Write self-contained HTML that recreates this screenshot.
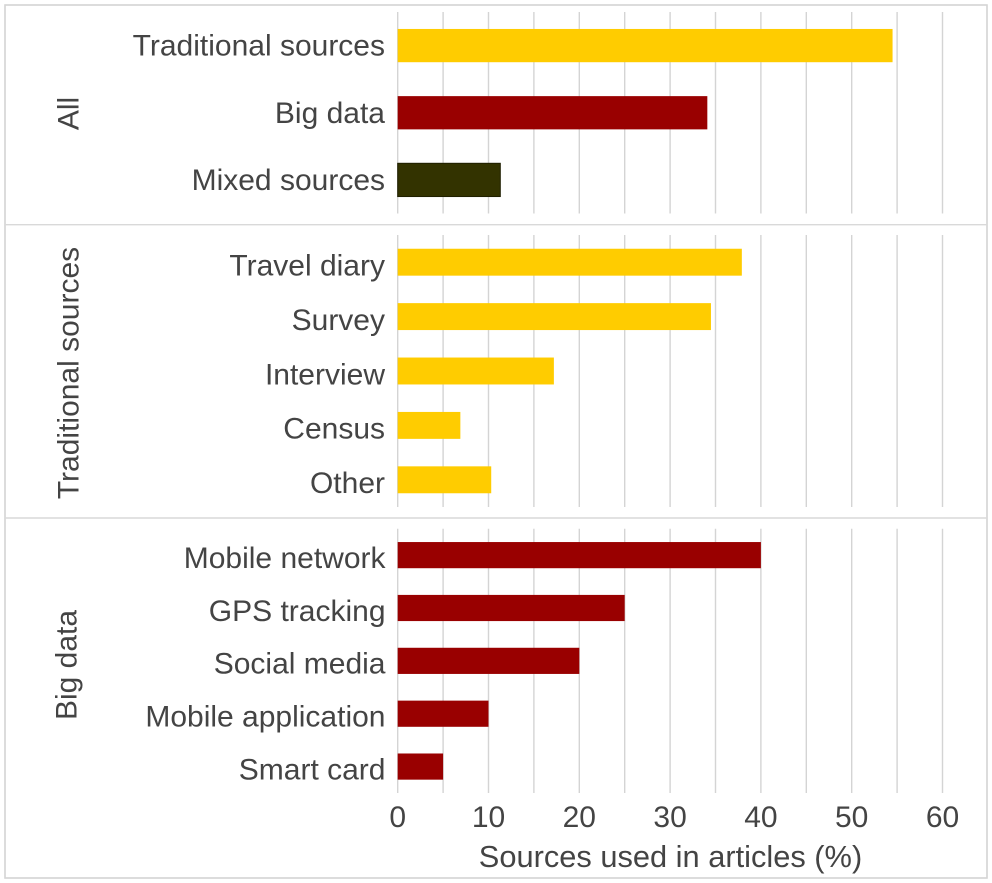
<!DOCTYPE html>
<html lang="en">
<head>
<meta charset="utf-8">
<title>Sources used in articles</title>
<style>
html,body{margin:0;padding:0;background:#fff;}
svg{display:block;font-family:"Liberation Sans",sans-serif;}
text{fill:#444;font-size:30px;}
</style>
</head>
<body>
<svg id="chart" xmlns="http://www.w3.org/2000/svg" width="992" height="883" viewBox="0 0 992 883"></svg>
<script>
const allCategories = ["Traditional sources", "Big data", "Mixed sources"];
const allValues = [54.5, 34.1, 11.3];
const allColors = ["#ffcc00", "#990000", "#333300"];
const traditionalCategories = ["Travel diary", "Survey", "Interview", "Census", "Other"];
const traditionalValues = [37.9, 34.5, 17.2, 6.9, 10.3];
const bigDataCategories = ["Mobile network", "GPS tracking", "Social media", "Mobile application", "Smart card"];
const bigDataValues = [40, 25, 20, 10, 5];
const xTickLabels = [0, 10, 20, 30, 40, 50, 60];
const gridValues = [0, 5, 10, 15, 20, 25, 30, 35, 40, 45, 50, 55, 60];

const NS = "http://www.w3.org/2000/svg";
const svg = document.getElementById("chart");
const x = v => 397.7 + v * 9.08;

function make(tag, attrs, parent) {
  const el = document.createElementNS(NS, tag);
  for (const k in attrs) el.setAttribute(k, attrs[k]);
  (parent || svg).appendChild(el);
  return el;
}

const frame = make("rect", {x: 5, y: 5, width: 982, height: 873, fill: "#fff", stroke: "#d4d4d4", "stroke-width": 1.6});



[224.7, 518].forEach(function (yy) {
  const sep = make("line", {x1: 5, x2: 987, y1: yy, y2: yy, stroke: "#d9d9d9", "stroke-width": 1.4});
  
  
});

function drawPanel(name, title, titleX, titleY, top, bottom, labelDy, labelX, categories, values, colors) {
  const g = make("g", {});
  
  

  gridValues.forEach(function (v) {
    const line = make("line", {x1: x(v), x2: x(v), y1: top, y2: bottom, stroke: "#d4d4d4", "stroke-width": 1.4}, g);
    
    
  });

  const step = (bottom - top) / categories.length;
  const y = i => top + step * (i + 0.5);
  const barH = step * 0.495;

  categories.forEach(function (cat, i) {
    const color = colors[i] || colors[0];
    const isDark = color === "#333300";
    const bar = make("rect", {
      x: x(0), y: y(i) - barH / 2, width: x(values[i]) - x(0), height: barH, fill: color,
      stroke: isDark ? "#1f1f00" : "none", "stroke-width": isDark ? 1 : 0
    }, g);
    
    

    const label = make("text", {x: labelX, y: y(i) + labelDy, "text-anchor": "end"}, g);
    label.textContent = cat;
    
    
  });

  const t = make("text", {x: titleX, y: titleY, "text-anchor": "middle", transform: "rotate(-90 " + titleX + " " + titleY + ")"}, g);
  t.textContent = title;
  
  
}

drawPanel("all", "All", 78.5, 113.5, 12, 213.5, 10, 385, allCategories, allValues, allColors);
drawPanel("traditional-sources", "Traditional sources", 78.5, 373, 235, 507, 13.3, 385, traditionalCategories, traditionalValues, ["#ffcc00"]);
drawPanel("big-data", "Big data", 76.5, 665, 528.7, 793, 12.8, 385.5, bigDataCategories, bigDataValues, ["#990000"]);

xTickLabels.forEach(function (v) {
  const tick = make("text", {x: x(v), y: 827, "text-anchor": "middle"});
  tick.textContent = v;
  
  
});

const axisTitle = make("text", {x: 670.5, y: 867, "text-anchor": "middle", style: "font-size:30.8px"});
axisTitle.textContent = "Sources used in articles (%)";


</script>
</body>
</html>
